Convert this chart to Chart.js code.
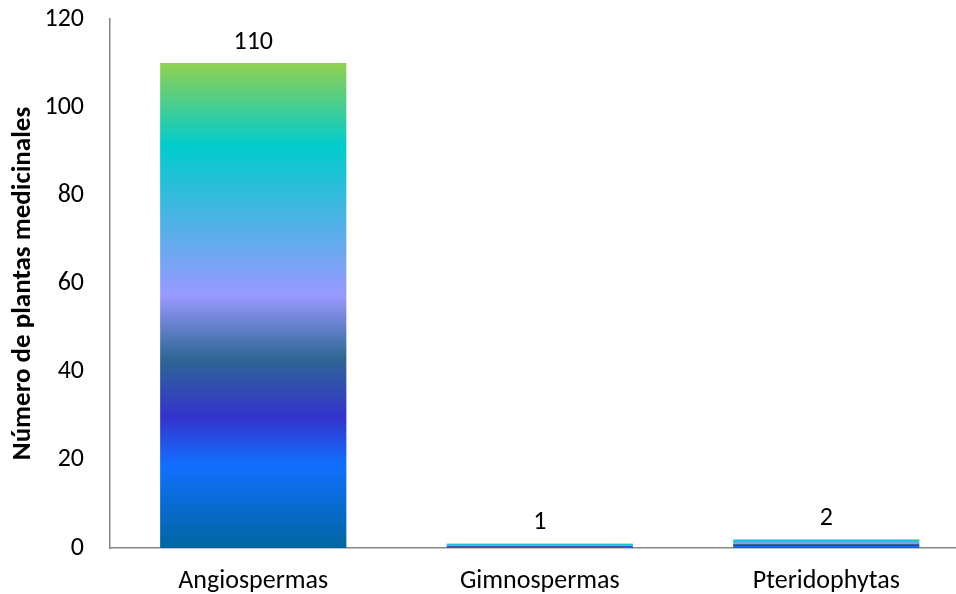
<!DOCTYPE html>
<html>
<head>
<meta charset="utf-8">
<script src="https://cdn.jsdelivr.net/npm/chart.js@4"></script>
<style>
  html, body { margin: 0; padding: 0; background: #fff; overflow: hidden; }
  #wrap { width: 956px; height: 594px; overflow: hidden; }
  canvas { display: block; }
</style>
</head>
<body>
<div id="wrap"><canvas id="chart" width="980" height="594"></canvas></div>
<script>
// Дані діаграми
const categories = ["Angiospermas", "Gimnospermas", "Pteridophytas"];
const plantCounts = [110, 1, 2];
const yTicks = [0, 20, 40, 60, 80, 100, 120];
const yTitle = "Número de plantas medicinales";

const FONT = "Carlito, Lato, 'Open Sans', sans-serif";

// Градієнт для кожного стовпця (згори вниз)
const gradientStops = [
  [0.00, "#92d050"],
  [0.17, "#00cccc"],
  [0.48, "#9999ff"],
  [0.61, "#2e6694"],
  [0.73, "#3333cc"],
  [0.83, "#1170ff"],
  [1.00, "#0066a0"]
];

function barGradient(context) {
  const chart = context.chart;
  const yScale = chart.scales.y;
  if (!chart.chartArea || !yScale || context.raw == null) return "#1170ff";
  const top = yScale.getPixelForValue(context.raw);
  const base = yScale.getPixelForValue(0);
  if (!isFinite(top) || !isFinite(base) || top === base) return "#1170ff";
  const g = chart.ctx.createLinearGradient(0, top, 0, base);
  gradientStops.forEach(s => g.addColorStop(s[0], s[1]));
  return g;
}

// Підписи значень над стовпцями
const valueLabels = {
  id: "valueLabels",
  afterDatasetsDraw(chart) {
    const ctx = chart.ctx;
    const meta = chart.getDatasetMeta(0);
    ctx.save();
    ctx.font = "26px " + FONT;
    ctx.fillStyle = "#000";
    ctx.textAlign = "center";
    ctx.textBaseline = "middle";
    meta.data.forEach((bar, i) => {
      ctx.fillText(String(plantCounts[i]), bar.x, bar.y - 21);
    });
    ctx.restore();
  }
};

const chart = new Chart(document.getElementById("chart"), {
  type: "bar",
  data: {
    labels: categories,
    datasets: [{
      data: plantCounts,
      backgroundColor: barGradient,
      borderWidth: 0,
      categoryPercentage: 1,
      barPercentage: 0.65
    }]
  },
  options: {
    responsive: false,
    animation: false,
    layout: { padding: { left: 3, right: 10.5, top: 19, bottom: 0 } },
    plugins: {
      legend: { display: false },
      tooltip: { enabled: false }
    },
    scales: {
      x: {
        grid: { display: false, drawTicks: false },
        border: { display: true, color: "#868686", width: 1.5 },
        ticks: { color: "#000", padding: 18, font: { family: FONT, size: 26 } },
        afterFit(scale) { scale.height = 46; }
      },
      y: {
        min: 0,
        max: 120,
        afterBuildTicks(scale) { scale.ticks = yTicks.map(v => ({ value: v })); },
        grid: { display: false, drawTicks: false },
        border: { display: true, color: "#868686", width: 1.5 },
        ticks: { color: "#000", padding: 26, font: { family: FONT, size: 26 } },
        title: {
          display: true,
          text: yTitle,
          color: "#000",
          font: { family: FONT, size: 27, weight: "bold" },
          padding: { top: 4, bottom: 4 }
        },
        afterFit(scale) {
          scale.width = 107;
          scale.paddingTop = 0;
          scale.paddingBottom = 0;
        }
      }
    }
  },
  plugins: [valueLabels]
});
</script>
</body>
</html>
